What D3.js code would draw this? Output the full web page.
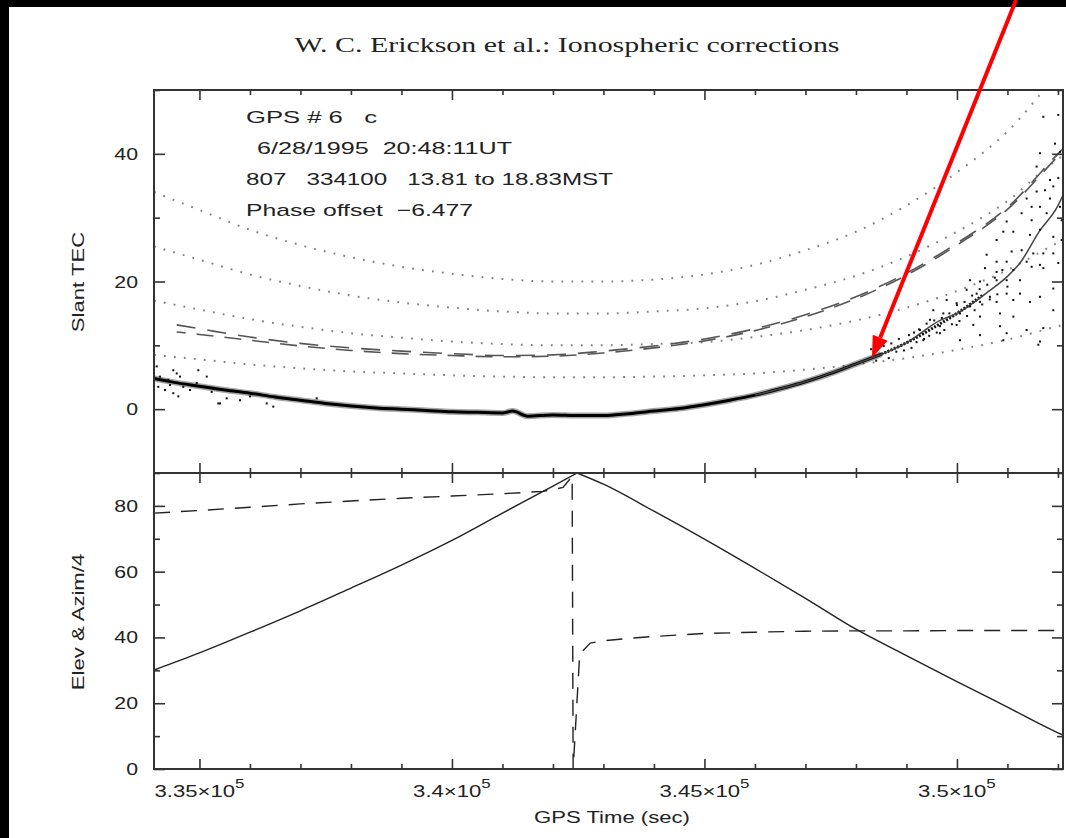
<!DOCTYPE html>
<html><head><meta charset="utf-8">
<script src="https://cdn.jsdelivr.net/npm/d3@7"></script>
<style>
html,body{margin:0;padding:0;background:#000;}
svg{display:block;}
text{white-space:pre;}
</style></head><body>
<svg id="fig" width="1066" height="838"></svg>
<script>
// ---- sampled series (GPS seconds) ----
const gridTime = [334100, 335000, 336000, 337000, 338000, 339000, 340000, 341000, 342000, 342480,
  343000, 344000, 345000, 346000, 347000, 348000, 349000, 350000, 351000, 352000, 352100];

// satellite elevation (deg)
const elevation = [30.1, 35.3, 41.6, 48.1, 55.0, 62.0, 69.5, 77.8, 86.0, 90.0,
  86.6, 78.4, 69.9, 61.0, 51.9, 42.5, 34.5, 26.6, 18.8, 11.0, 10.3];

// reference slant-TEC curves for vertical TEC of 5, 10, 15, 20 units
const slant5  = [8.5, 7.8, 7.0, 6.4, 5.9, 5.6, 5.3, 5.1, 5.0, 5.0, 5.0, 5.1, 5.3, 5.6, 6.2, 7.0, 8.0, 9.3, 10.9, 13.0, 13.2];
const slant10 = [17.0, 15.6, 14.1, 12.9, 11.9, 11.2, 10.6, 10.2, 10.0, 10.0, 10.0, 10.2, 10.5, 11.3, 12.4, 13.9, 15.9, 18.5, 21.8, 26.1, 26.5];
const slant15 = [25.5, 23.4, 21.1, 19.3, 17.8, 16.7, 15.9, 15.3, 15.0, 15.0, 15.0, 15.3, 15.8, 16.9, 18.7, 20.9, 23.9, 27.8, 32.6, 39.2, 39.7];
const slant20 = [34.0, 31.2, 28.1, 25.7, 23.8, 22.3, 21.2, 20.4, 20.0, 20.0, 20.0, 20.3, 21.1, 22.6, 24.9, 27.8, 31.9, 37.1, 43.5, 52.2, 52.9];

// azimuth / 4 (wraps through north)
const azimTime = [334100, 335000, 336000, 337000, 338000, 339000, 340000, 341000, 341800, 342200, 342380,
  342400, 342530, 342740, 343000, 343500, 344000, 345000, 346000, 347000, 348000, 349000, 350000, 351000, 352100];
const azimQuarter = [77.8, 78.6, 79.6, 80.6, 81.5, 82.3, 83.0, 83.7, 84.4, 85.6, 89.0,
  0.0, 35.0, 38.3, 39.0, 39.7, 40.3, 41.2, 41.6, 41.9, 42.0, 42.0, 42.1, 42.1, 42.1];

// model ionosphere curves (two receivers)
const modelTime = [334550, 335000, 336000, 337000, 338000, 339000, 340000, 341000, 342000, 343000,
  344000, 345000, 346000, 347000, 348000, 349000, 350000, 351000, 352000, 352100];
const modelA = [13.2, 12.6, 11.3, 10.3, 9.6, 9.1, 8.7, 8.4, 8.5, 9.1, 9.9, 11.0, 12.6, 14.8, 17.6, 21.3, 26.0, 31.6, 40.0, 40.8];
const modelB = [12.1, 11.7, 10.8, 9.9, 9.2, 8.7, 8.4, 8.2, 8.3, 8.8, 9.6, 10.7, 12.3, 14.5, 17.3, 21.0, 25.7, 31.3, 39.6, 40.4];

// measured slant TEC, dense track (phase, offset applied)
const tecTime = [334100, 334500, 335000, 335500, 336000, 336500, 337000, 337500, 338000, 338500, 339000,
  339500, 340000, 340500, 341000, 341200, 341500, 342000, 342500, 343000, 343500, 344000, 344500, 345000,
  345500, 346000, 346500, 347000, 347500, 348000, 348500, 349000, 349500, 350000, 350500];
const tecValue = [4.8, 4.2, 3.6, 3.0, 2.5, 1.9, 1.4, 0.9, 0.5, 0.2, 0.0,
  -0.2, -0.4, -0.5, -0.6, -0.3, -1.1, -0.9, -1.0, -1.0, -0.7, -0.3, 0.1, 0.7,
  1.4, 2.2, 3.2, 4.3, 5.6, 7.1, 8.6, 10.4, 12.6, 15.0, 17.8];

// smoothed fit through the measured TEC
const fitTime = [346000, 347000, 348000, 349000, 349665, 350000, 350654, 351000, 351248, 351644, 351981, 352100];
const fitValue = [2.2, 4.3, 7.1, 10.4, 13.9, 15.0, 18.6, 20.8, 22.9, 28.0, 31.6, 33.5];

// isolated TEC samples away from the dense track
const scatterTime = [334153, 334219, 334185, 334318, 334417, 334482, 334550, 334615, 334482, 334581, 334680, 334977,
  335144, 335373, 335407, 335243, 335540, 335803, 336001, 336332, 336462, 337322, 334946, 334383, 334813,
  348300, 348400, 348550, 348650, 348700, 348800, 348850, 348950, 349050, 349100, 349150, 349200, 349250, 349350,
  349400, 349450, 349550, 349600, 349700, 349750, 349850, 349900, 350000, 350050, 350150, 350200, 350300, 350350,
  350450, 350500, 350600, 350650, 350750, 350800, 350900, 351000,
  352007, 351710, 351941, 352040, 351644, 351578, 351842, 352007, 351743, 351908, 351578, 351380, 351479, 351842,
  351644, 351776, 352040, 352073, 351479, 351281, 350984, 350918, 351116, 351446, 351644, 351908, 352073, 350786,
  351083, 351281, 351512, 351710, 351908, 350588, 350786, 350984, 351380, 351644, 350555, 350786, 351116, 351479,
  351710, 352007, 350258, 350456, 350786, 350984, 351248, 351908, 350192, 350390, 350654, 350984, 351248, 351644,
  349796, 349994, 350258, 350456, 350786, 351116, 351446, 349532, 349730, 350060, 350456, 350852, 351116, 351908,
  349466, 349664, 349994, 350324, 350852, 350984, 351380, 351710, 349268, 349664, 350456, 350918, 351644, 351611,
  349334, 350060];
const scatterTec = [6.7, 5.1, 3.5, 3.0, 3.8, 6.1, 5.6, 5.1, 2.5, 2.0, 3.5, 6.1,
  5.1, 0.9, 0.9, 2.7, 1.7, 1.4, 2.0, 0.9, 0.4, 1.7, 4.1, 4.6, 3.0,
  9.4, 7.6, 9.9, 8.0, 10.3, 9.0, 11.0, 9.2, 11.6, 9.6, 12.0, 10.5, 12.5, 11.0,
  13.4, 11.5, 13.9, 12.0, 14.3, 12.4, 15.0, 13.3, 16.3, 13.8, 16.8, 14.6, 17.8, 15.5,
  18.8, 16.4, 19.5, 17.2, 20.6, 18.0, 21.8, 19.2,
  46.1, 45.8, 41.6, 40.3, 40.1, 38.0, 35.9, 36.2, 34.3, 34.9, 34.1, 33.0, 31.7, 33.0,
  31.7, 30.7, 31.7, 29.6, 29.6, 30.7, 29.4, 27.8, 27.8, 27.3, 28.1, 27.0, 26.5, 26.5,
  24.7, 24.9, 24.4, 24.4, 24.4, 24.2, 23.1, 23.1, 23.1, 22.6, 22.1, 21.5, 21.8, 22.3,
  22.1, 22.9, 20.2, 20.0, 20.2, 20.2, 20.2, 18.9, 18.7, 18.1, 17.6, 18.1, 18.1, 17.6,
  17.1, 16.6, 16.1, 16.8, 16.8, 17.1, 16.8, 15.5, 15.0, 15.0, 14.5, 15.0, 14.5, 15.5,
  14.0, 13.0, 13.2, 13.2, 13.0, 11.9, 12.4, 12.7, 12.4, 11.9, 11.6, 10.8, 10.6, 10.1,
  10.8, 10.8];

// axis ticks
const xMajor = [335000, 340000, 345000, 350000];
const xMinor = [336000, 337000, 338000, 339000, 341000, 342000, 343000, 344000, 346000, 347000, 348000, 349000, 351000, 352000];
const xTickMantissa = ["3.35", "3.4", "3.45", "3.5"];
const xTickExponent = "5";
const tecMajor = [0, 20, 40];
const tecMinor = [-10, 10, 30, 50];
const angMajor = [0, 20, 40, 60, 80];
const angMinor = [10, 30, 50, 70];

const infoLines = ["GPS # 6   c", "6/28/1995  20:48:11UT", "807   334100   13.81 to 18.83MST", "Phase offset  \u22126.477"];

// ---- layout ----
const svg = d3.select("#fig");
const L = 154, R = 1063, T = 90, S = 473, B = 769;
const x = d3.scaleLinear().domain([334100, 352100]).range([L, R]);
const yTec = d3.scaleLinear().domain([-10, 50]).range([S, T]);
const yAng = d3.scaleLinear().domain([0, 90]).range([B, S]);

svg.append("rect").attr("x", 9).attr("y", 7).attr("width", 1066 - 9).attr("height", 838 - 7).attr("fill", "#fff");

const defs = svg.append("defs");
defs.append("clipPath").attr("id", "clipUpper").append("rect").attr("x", L).attr("y", T).attr("width", R - L).attr("height", S - T);
defs.append("clipPath").attr("id", "clipLower").append("rect").attr("x", L).attr("y", S).attr("width", R - L).attr("height", B - S);

const sans = "'Liberation Sans', Arial, sans-serif";
function stretch(sel, k) {
  sel.each(function () {
    const w = this.getComputedTextLength();
    d3.select(this).attr("textLength", w * k).attr("lengthAdjust", "spacingAndGlyphs");
  });
}

// title
svg.append("text").attr("x", 567).attr("y", 52).attr("text-anchor", "middle")
  .attr("font-family", "'Liberation Serif', 'DejaVu Serif', serif").attr("font-size", 22).attr("fill", "#222")
  .text("W. C. Erickson et al.: Ionospheric corrections")
  .attr("textLength", 545).attr("lengthAdjust", "spacingAndGlyphs");

// ---- upper panel ----
const up = svg.append("g").attr("clip-path", "url(#clipUpper)");
const lineTec = (vals, times) => d3.line().x((d, i) => x(times[i])).y(d => yTec(d)).curve(d3.curveMonotoneX)(vals);

[slant5, slant10, slant15, slant20].forEach(s => {
  up.append("path").attr("d", lineTec(s, gridTime)).attr("fill", "none")
    .attr("stroke", "#808080").attr("stroke-width", 2).attr("stroke-dasharray", "1.8 8.2");
});
[modelA, modelB].forEach((m, k) => {
  up.append("path").attr("d", lineTec(m, modelTime)).attr("fill", "none")
    .attr("stroke", "#555").attr("stroke-width", 1.6).attr("stroke-dasharray", k ? "17 11" : "19 12")
    .attr("stroke-dashoffset", k ? 8 : 0);
});

// dense measured track: soft halo, then core; thins out where the signal gets noisy
const tecDense = tecValue.map((v, i) => [tecTime[i], v]);
const lineTecPts = d3.line().x(d => x(d[0])).y(d => yTec(d[1])).curve(d3.curveMonotoneX);
up.append("path").attr("d", lineTecPts(tecDense.filter(d => d[0] <= 348500))).attr("fill", "none")
  .attr("stroke", "#000").attr("stroke-opacity", 0.35).attr("stroke-width", 6).attr("stroke-linejoin", "round");
up.append("path").attr("d", lineTecPts(tecDense.filter(d => d[0] <= 348500))).attr("fill", "none")
  .attr("stroke", "#000").attr("stroke-width", 3).attr("stroke-linejoin", "round");
up.append("path").attr("d", lineTecPts(tecDense.filter(d => d[0] >= 348500))).attr("fill", "none")
  .attr("stroke", "#111").attr("stroke-width", 3).attr("stroke-dasharray", "2 1.5");
up.append("path").attr("d", lineTecPts(fitTime.map((t, i) => [t, fitValue[i]]))).attr("fill", "none")
  .attr("stroke", "#444").attr("stroke-width", 1.5);
up.selectAll("rect.sample").data(scatterTime.map((t, i) => [t, scatterTec[i]])).enter().append("rect")
  .attr("class", "sample").attr("x", d => x(d[0]) - 1).attr("y", d => yTec(d[1]) - 1)
  .attr("width", 2).attr("height", 2).attr("fill", "#111");

// ---- lower panel ----
const lo = svg.append("g").attr("clip-path", "url(#clipLower)");
const peak = elevation.indexOf(d3.max(elevation));
const lineAng = d3.line().x(d => x(d[0])).y(d => yAng(d[1])).curve(d3.curveMonotoneX);
const elevPts = gridTime.map((t, i) => [t, elevation[i]]);
lo.append("path").attr("d", lineAng(elevPts.slice(0, peak + 1))).attr("fill", "none").attr("stroke", "#222").attr("stroke-width", 1.4);
lo.append("path").attr("d", lineAng(elevPts.slice(peak))).attr("fill", "none").attr("stroke", "#222").attr("stroke-width", 1.4);
lo.append("path").attr("d", d3.line().x(d => x(d[0])).y(d => yAng(d[1]))(azimTime.map((t, i) => [t, azimQuarter[i]])))
  .attr("fill", "none").attr("stroke", "#222").attr("stroke-width", 1.4).attr("stroke-dasharray", "16 11");

// ---- frames and ticks ----
const axisColor = "#333";
function ticks(axisGen, vals, size, tx, ty) {
  const g = svg.append("g").attr("transform", `translate(${tx},${ty})`)
    .call(axisGen.tickValues(vals).tickSize(size).tickFormat(""));
  g.select(".domain").remove();
  g.selectAll("line").attr("stroke", axisColor).attr("stroke-width", 1.6);
}
// x ticks on top, divider (both ways) and bottom
ticks(d3.axisBottom(x), xMajor, 10, 0, T); ticks(d3.axisBottom(x), xMinor, 5, 0, T);
ticks(d3.axisTop(x), xMajor, 10, 0, S); ticks(d3.axisTop(x), xMinor, 5, 0, S);
ticks(d3.axisBottom(x), xMajor, 10, 0, S); ticks(d3.axisBottom(x), xMinor, 5, 0, S);
ticks(d3.axisTop(x), xMajor, 10, 0, B); ticks(d3.axisTop(x), xMinor, 5, 0, B);
// y ticks
ticks(d3.axisRight(yTec), tecMajor, 11, L, 0); ticks(d3.axisRight(yTec), tecMinor, 6, L, 0);
ticks(d3.axisLeft(yTec), tecMajor, 11, R, 0); ticks(d3.axisLeft(yTec), tecMinor, 6, R, 0);
ticks(d3.axisRight(yAng), angMajor, 11, L, 0); ticks(d3.axisRight(yAng), angMinor, 6, L, 0);
ticks(d3.axisLeft(yAng), angMajor, 11, R, 0); ticks(d3.axisLeft(yAng), angMinor, 6, R, 0);

svg.append("rect").attr("x", L).attr("y", T).attr("width", R - L).attr("height", B - T)
  .attr("fill", "none").attr("stroke", axisColor).attr("stroke-width", 2);
svg.append("line").attr("x1", L).attr("x2", R).attr("y1", S).attr("y2", S).attr("stroke", axisColor).attr("stroke-width", 2);

// ---- tick labels ----
const txt = (xx, yy, s, anchor) => svg.append("text").attr("x", xx).attr("y", yy).attr("text-anchor", anchor || "end")
  .attr("font-family", sans).attr("font-size", 17).attr("fill", "#222").text(s);
tecMajor.forEach(v => stretch(txt(138, yTec(v) + 6, String(v)), 1.25));
angMajor.forEach(v => stretch(txt(138, yAng(v) + 6, String(v)), 1.25));
xMajor.forEach((v, i) => {
  const t = svg.append("text").attr("x", x(v)).attr("y", 797).attr("text-anchor", "middle")
    .attr("font-family", sans).attr("font-size", 17).attr("fill", "#222");
  t.append("tspan").text(xTickMantissa[i] + "\u00d710");
  t.append("tspan").attr("dy", -9).attr("font-size", 13).text(xTickExponent);
  stretch(t, 1.3);
});

// axis titles
stretch(txt(612, 823, "GPS Time (sec)", "middle"), 1.3);
stretch(svg.append("text").attr("transform", `translate(84,282) rotate(-90)`).attr("text-anchor", "middle")
  .attr("font-family", sans).attr("font-size", 17).attr("fill", "#222").text("Slant TEC"), 1.3);
stretch(svg.append("text").attr("transform", `translate(84,622) rotate(-90)`).attr("text-anchor", "middle")
  .attr("font-family", sans).attr("font-size", 17).attr("fill", "#222").text("Elev & Azim/4"), 1.3);

// info block
const infoX = [246, 257, 246, 246], infoW = [131, 255, 367, 227];
infoLines.forEach((s, i) => {
  txt(infoX[i], 123 + 31 * i, s, "start").attr("textLength", infoW[i]).attr("lengthAdjust", "spacingAndGlyphs");
});

// ---- arrow annotation ----
const arrowFrom = [351170, 64.1], arrowTo = [348317, 8.0];
const ax0 = x(arrowFrom[0]), ay0 = yTec(arrowFrom[1]), ax1 = x(arrowTo[0]), ay1 = yTec(arrowTo[1]);
const ang = Math.atan2(ay1 - ay0, ax1 - ax0);
const hl = 22, hw = 8;
const bx = ax1 - hl * Math.cos(ang), by = ay1 - hl * Math.sin(ang);
svg.append("line").attr("x1", ax0).attr("y1", ay0).attr("x2", bx).attr("y2", by)
  .attr("stroke", "#f00").attr("stroke-width", 4);
svg.append("path").attr("d", `M${ax1},${ay1}L${bx + hw * Math.sin(ang)},${by - hw * Math.cos(ang)}L${bx - hw * Math.sin(ang)},${by + hw * Math.cos(ang)}Z`)
  .attr("fill", "#f00");
</script>
</body></html>
